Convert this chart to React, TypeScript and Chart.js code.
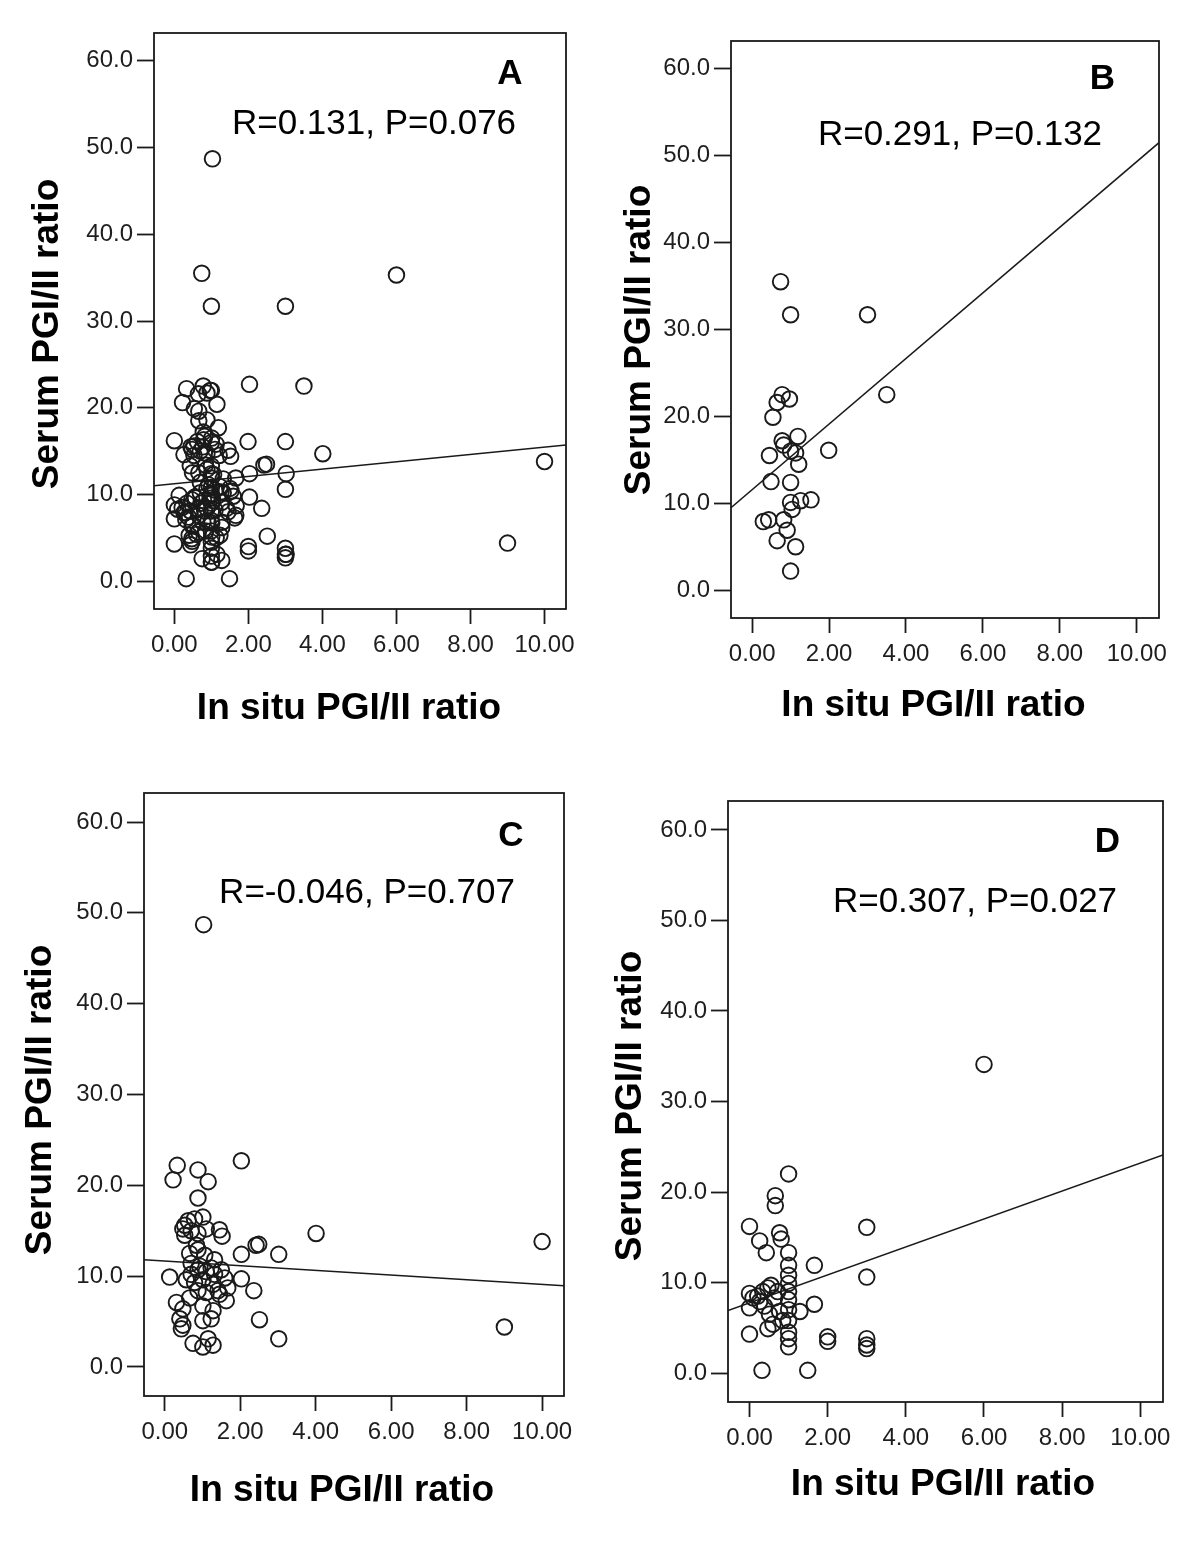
import React, { useEffect, useRef } from "react";
import { Chart, registerables } from "chart.js";

Chart.register(...registerables);

// ---------- axis values ----------
const xTickValues = [0, 2, 4, 6, 8, 10];
const yTickValues = [0, 10, 20, 30, 40, 50, 60];
const xMin = -0.55;
const xMax = 10.58;
const yMin = -3.2;
const yMax = 63.2;

// ---------- labels ----------
const xTitleText = "In situ PGI/II ratio";
const yTitleText = "Serum PGI/II ratio";
const panelLetters = ["A", "B", "C", "D"];
const statTexts = [
  "R=0.131, P=0.076",
  "R=0.291, P=0.132",
  "R=-0.046, P=0.707",
  "R=0.307, P=0.027",
];

// ---------- panel B data ----------
const bX = [0.74, 1.0, 3.0, 3.5, 0.78, 0.97, 0.65, 0.54, 0.78, 0.82, 1.19, 0.45, 1.0, 1.99, 1.13, 1.21, 0.49, 1.0, 1.53, 1.26, 1.0, 1.04, 0.29, 0.43, 0.91, 0.65, 1.13, 1.0, 0.82];
const bY = [35.5, 31.7, 31.7, 22.5, 22.5, 22.0, 21.6, 19.9, 17.2, 16.7, 17.7, 15.5, 16.0, 16.1, 15.8, 14.5, 12.5, 12.4, 10.4, 10.3, 10.1, 9.3, 7.9, 8.1, 6.9, 5.7, 5.0, 2.2, 8.1];

// ---------- panel C data ----------
const cX = [1.03, 2.03, 0.33, 0.22, 0.88, 1.15, 0.88, 4.01, 10.0, 9.0, 3.02, 2.49, 2.42, 2.03, 2.03, 2.36, 2.51, 3.02, 0.13, 1.45, 1.52, 0.53, 0.62, 0.79, 1.01, 0.53, 0.7, 0.88, 1.1, 0.66, 0.88, 1.06, 1.32, 0.7, 0.93, 1.23, 1.5, 0.57, 0.79, 1.01, 1.28, 1.59, 0.88, 1.1, 1.41, 1.67, 1.63, 0.31, 0.48, 0.66, 1.01, 1.28, 0.4, 0.48, 0.44, 1.01, 1.23, 1.15, 0.75, 1.01, 1.28, 1.1, 0.88, 0.84, 1.32, 0.48, 0.7, 1.45];
const cY = [48.7, 22.7, 22.2, 20.6, 21.7, 20.4, 18.6, 14.7, 13.8, 4.4, 12.4, 13.5, 13.4, 12.4, 9.7, 8.4, 5.2, 3.1, 9.9, 15.1, 14.4, 15.6, 16.1, 16.3, 16.5, 14.5, 15.0, 14.7, 15.2, 12.5, 12.9, 12.3, 11.8, 11.4, 11.1, 10.9, 10.7, 9.6, 9.3, 9.6, 9.1, 9.8, 8.4, 8.2, 8.4, 8.7, 7.3, 7.1, 6.4, 7.6, 6.7, 6.2, 5.3, 4.6, 4.2, 5.1, 5.3, 3.1, 2.6, 2.2, 2.4, 10.5, 10.7, 13.4, 10.2, 15.2, 10.2, 8.0];

// ---------- panel D data ----------
const dX = [1.0, 0.66, 0.66, 0.0, 0.26, 0.43, 0.77, 0.81, 3.0, 3.0, 1.66, 1.66, 1.0, 1.0, 1.0, 1.0, 1.0, 1.0, 1.0, 1.0, 1.0, 1.0, 1.29, 0.77, 0.0, 0.0, 0.09, 0.21, 0.34, 0.47, 0.64, 0.38, 0.51, 0.47, 0.6, 0.0, 0.32, 1.49, 2.0, 2.0, 3.0, 3.0, 3.0, 0.72, 0.26, 0.55, 1.0, 0.85];
const dY = [22.0, 19.6, 18.5, 16.2, 14.6, 13.3, 15.5, 14.8, 16.1, 10.6, 11.9, 7.6, 13.3, 11.9, 10.8, 9.9, 9.0, 7.0, 5.8, 4.5, 3.8, 2.9, 6.8, 6.8, 8.8, 7.2, 8.3, 8.5, 9.0, 9.4, 8.3, 7.4, 6.5, 4.9, 5.4, 4.3, 0.3, 0.3, 4.0, 3.5, 3.8, 3.1, 2.7, 9.0, 7.9, 9.7, 8.1, 5.8];
const dOutlierX = [6.0];
const dOutlierY = [34.1];

// ---------- panel A: all cases (B + C + D) ----------
const aOutlierX = [6.0];
const aOutlierY = [35.3];

// ---------- fit lines (endpoints read at the plot edges) ----------
const fitAY = [11.0, 15.7];
const fitBY = [9.5, 51.5];
const fitCY = [11.8, 8.95];
const fitDY = [6.9, 24.1];
const fitX = [xMin, xMax];

type Pt = { x: number; y: number };
const zip = (xs: number[], ys: number[]): Pt[] => xs.map((x, i) => ({ x, y: ys[i] }));

const FONT = "'Liberation Sans', Arial, Helvetica, sans-serif";
const INK = "#1a1a1a";

type Rect = { left: number; top: number; width: number; height: number };
type Frame = { left: number; top: number; right: number; bottom: number };
type Pos = { x: number; y: number };

type PanelCfg = {
  canvas: Rect;
  frame: Frame;
  points: Pt[];
  fit: Pt[];
  letter: string;
  stat: string;
  letterPos: Pos;
  statPos: Pos;
  xTitlePos: Pos;
  yTitlePos: Pos;
};

const panels: PanelCfg[] = [
  {
    canvas: { left: 0, top: 0, width: 600, height: 760 },
    frame: { left: 154, top: 33, right: 566, bottom: 609 },
    points: [...zip(bX, bY), ...zip(cX, cY), ...zip(dX, dY), ...zip(aOutlierX, aOutlierY)],
    fit: zip(fitX, fitAY),
    letter: panelLetters[0],
    stat: statTexts[0],
    letterPos: { x: 510, y: 84 },
    statPos: { x: 374, y: 133.5 },
    xTitlePos: { x: 349, y: 719 },
    yTitlePos: { x: 58, y: 334 },
  },
  {
    canvas: { left: 600, top: 0, width: 600, height: 760 },
    frame: { left: 731, top: 41, right: 1159, bottom: 618 },
    points: zip(bX, bY),
    fit: zip(fitX, fitBY),
    letter: panelLetters[1],
    stat: statTexts[1],
    letterPos: { x: 1102.5, y: 89 },
    statPos: { x: 960, y: 144.5 },
    xTitlePos: { x: 933.5, y: 716 },
    yTitlePos: { x: 650, y: 340 },
  },
  {
    canvas: { left: 0, top: 760, width: 600, height: 791 },
    frame: { left: 144, top: 793, right: 564, bottom: 1396 },
    points: zip(cX, cY),
    fit: zip(fitX, fitCY),
    letter: panelLetters[2],
    stat: statTexts[2],
    letterPos: { x: 511, y: 846 },
    statPos: { x: 367, y: 902.5 },
    xTitlePos: { x: 342, y: 1501 },
    yTitlePos: { x: 51, y: 1100 },
  },
  {
    canvas: { left: 600, top: 760, width: 600, height: 791 },
    frame: { left: 728, top: 801, right: 1163, bottom: 1402 },
    points: [...zip(dX, dY), ...zip(dOutlierX, dOutlierY)],
    fit: zip(fitX, fitDY),
    letter: panelLetters[3],
    stat: statTexts[3],
    letterPos: { x: 1107.5, y: 852 },
    statPos: { x: 975, y: 911.5 },
    xTitlePos: { x: 943, y: 1495 },
    yTitlePos: { x: 641, y: 1106 },
  },
];

function Panel({ cfg }: { cfg: PanelCfg }) {
  const ref = useRef<HTMLCanvasElement | null>(null);
  const c = cfg.canvas;
  const f = cfg.frame;

  useEffect(() => {
    const canvas = ref.current;
    if (!canvas) return;

    const decor = {
      id: "panelDecor",
      afterDraw(chart: any) {
        const ctx: CanvasRenderingContext2D = chart.ctx;
        const a = chart.chartArea;
        ctx.save();
        ctx.strokeStyle = INK;
        ctx.lineWidth = 1.8;
        ctx.strokeRect(a.left, a.top, a.right - a.left, a.bottom - a.top);

        ctx.fillStyle = "#000";
        ctx.textBaseline = "alphabetic";
        ctx.textAlign = "center";
        ctx.font = `bold 35px ${FONT}`;
        ctx.fillText(cfg.letter, cfg.letterPos.x - c.left, cfg.letterPos.y - c.top);
        ctx.font = `35px ${FONT}`;
        ctx.fillText(cfg.stat, cfg.statPos.x - c.left, cfg.statPos.y - c.top);

        ctx.font = `bold 37px ${FONT}`;
        ctx.fillText(xTitleText, cfg.xTitlePos.x - c.left, cfg.xTitlePos.y - c.top);

        ctx.translate(cfg.yTitlePos.x - c.left, cfg.yTitlePos.y - c.top);
        ctx.rotate(-Math.PI / 2);
        ctx.fillText(yTitleText, 0, 0);
        ctx.restore();
      },
    };

    const tickFont = { family: FONT, size: 24 };

    const chart = new Chart(canvas, {
      type: "scatter",
      data: {
        datasets: [
          {
            type: "line",
            data: cfg.fit,
            borderColor: INK,
            borderWidth: 1.5,
            pointRadius: 0,
            fill: false,
            tension: 0,
            order: 1,
          } as any,
          {
            type: "scatter",
            data: cfg.points,
            pointStyle: "circle",
            pointRadius: 7.8,
            pointHoverRadius: 7.8,
            pointBorderWidth: 1.9,
            pointBorderColor: INK,
            pointBackgroundColor: "rgba(0,0,0,0)",
            order: 2,
          } as any,
        ],
      },
      options: {
        responsive: false,
        animation: false,
        devicePixelRatio: 1,
        events: [],
        layout: {
          padding: {
            top: f.top - c.top,
            right: c.left + c.width - f.right,
            left: 0,
            bottom: 0,
          },
        },
        plugins: {
          legend: { display: false },
          tooltip: { enabled: false },
        },
        scales: {
          x: {
            type: "linear",
            position: "bottom",
            min: xMin,
            max: xMax,
            afterBuildTicks: (s: any) => {
              s.ticks = xTickValues.map((v) => ({ value: v }));
            },
            afterFit: (s: any) => {
              s.height = c.top + c.height - f.bottom;
            },
            ticks: {
              autoSkip: false,
              maxRotation: 0,
              minRotation: 0,
              padding: 7,
              color: "#1e1e1e",
              font: tickFont,
              callback: (v: any) => Number(v).toFixed(2),
            },
            grid: {
              display: true,
              drawOnChartArea: false,
              drawTicks: true,
              tickLength: 15,
              tickColor: INK,
              tickWidth: 1.8,
            },
            border: { display: false },
          },
          y: {
            type: "linear",
            position: "left",
            min: yMin,
            max: yMax,
            afterBuildTicks: (s: any) => {
              s.ticks = yTickValues.map((v) => ({ value: v }));
            },
            afterFit: (s: any) => {
              s.width = f.left - c.left;
            },
            ticks: {
              autoSkip: false,
              padding: 4,
              color: "#1e1e1e",
              font: tickFont,
              callback: (v: any) => Number(v).toFixed(1),
            },
            grid: {
              display: true,
              drawOnChartArea: false,
              drawTicks: true,
              tickLength: 17,
              tickColor: INK,
              tickWidth: 1.8,
            },
            border: { display: false },
          },
        },
      } as any,
      plugins: [decor],
    });

    return () => {
      chart.destroy();
    };
  }, []);

  return (
    <canvas
      ref={ref}
      width={c.width}
      height={c.height}
      style={{
        position: "absolute",
        left: c.left,
        top: c.top,
        width: c.width,
        height: c.height,
      }}
    />
  );
}

export default function App() {
  return (
    <div
      style={{
        position: "absolute",
        left: 0,
        top: 0,
        width: 1200,
        height: 1551,
        background: "#fff",
      }}
    >
      {panels.map((p, i) => (
        <Panel key={i} cfg={p} />
      ))}
    </div>
  );
}
